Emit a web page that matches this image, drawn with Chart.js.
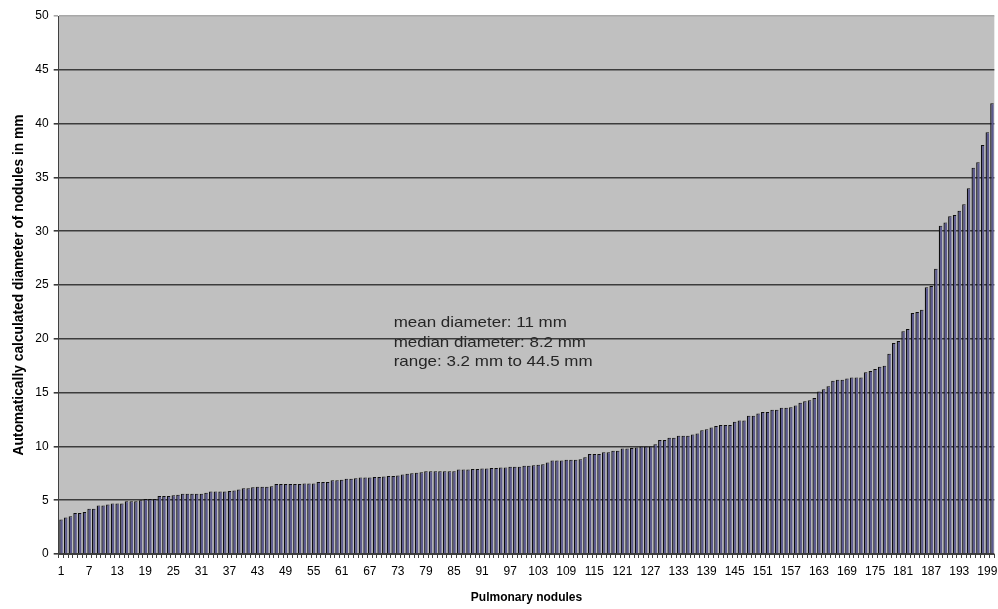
<!DOCTYPE html>
<html>
<head>
<meta charset="utf-8">
<script src="https://cdn.jsdelivr.net/npm/chart.js@4.4.1/dist/chart.umd.min.js"></script>
<style>
    body { margin: 0; background: #fff; }
    #wrap { width: 998px; height: 609px; }
</style>
</head>
<body>
<div id="wrap"><canvas id="barChart" width="998" height="609"></canvas></div>
<script>
'use strict';

// nodule diameters in mm, sorted
const diameters = [
    3.2, 3.4, 3.5, 3.8, 3.8, 3.9, 4.2, 4.2, 4.5, 4.5,
    4.6, 4.7, 4.7, 4.7, 4.9, 4.9, 4.9, 5.0, 5.1, 5.1,
    5.1, 5.4, 5.4, 5.4, 5.45, 5.5, 5.6, 5.6, 5.6, 5.6,
    5.6, 5.7, 5.8, 5.8, 5.8, 5.8, 5.85, 5.9, 6.0, 6.1,
    6.1, 6.2, 6.25, 6.25, 6.25, 6.3, 6.5, 6.5, 6.5, 6.5,
    6.5, 6.5, 6.55, 6.55, 6.55, 6.7, 6.7, 6.7, 6.85, 6.85,
    6.9, 7.0, 7.0, 7.05, 7.1, 7.1, 7.1, 7.15, 7.15, 7.2,
    7.25, 7.25, 7.3, 7.4, 7.45, 7.5, 7.55, 7.6, 7.7, 7.7,
    7.7, 7.7, 7.7, 7.7, 7.7, 7.85, 7.85, 7.85, 7.9, 7.9,
    7.95, 7.95, 8.0, 8.0, 8.05, 8.05, 8.1, 8.1, 8.1, 8.2,
    8.2, 8.25, 8.3, 8.35, 8.5, 8.7, 8.7, 8.7, 8.75, 8.75,
    8.75, 8.8, 9.0, 9.3, 9.3, 9.3, 9.45, 9.45, 9.6, 9.6,
    9.8, 9.8, 9.85, 9.9, 10.0, 10.0, 10.0, 10.2, 10.6, 10.6,
    10.8, 10.8, 11.0, 11.0, 11.0, 11.1, 11.2, 11.5, 11.6, 11.75,
    11.9, 12.0, 12.0, 12.0, 12.3, 12.4, 12.4, 12.85, 12.85, 13.05,
    13.2, 13.2, 13.4, 13.4, 13.6, 13.6, 13.65, 13.8, 14.05, 14.2,
    14.3, 14.5, 15.1, 15.3, 15.6, 16.1, 16.2, 16.2, 16.3, 16.4,
    16.4, 16.4, 16.9, 17.0, 17.2, 17.4, 17.5, 18.6, 19.6, 19.8,
    20.7, 20.9, 22.4, 22.5, 22.7, 24.8, 24.9, 26.5, 30.5, 30.8,
    31.4, 31.5, 31.9, 32.5, 34.0, 35.9, 36.4, 38.0, 39.2, 41.9
];
const nodules = diameters.map((d, i) => String(i + 1));
const yTicks = [0, 5, 10, 15, 20, 25, 30, 35, 40, 45, 50];
const noteLines = ['mean diameter: 11 mm', 'median diameter: 8.2 mm', 'range: 3.2 mm to 44.5 mm'];
const noteValues = [21.45, 19.6, 17.85];

// grey plot area + the text box
const plotBg = {
    id: 'plotBg',
    beforeDraw(chart) {
        const a = chart.chartArea, ctx = chart.ctx;
        ctx.save();
        ctx.fillStyle = '#c0c0c0';
        ctx.fillRect(a.left, a.top, a.right - a.left, a.bottom - a.top);
        ctx.restore();
    },
    afterDraw(chart) {
        const ctx = chart.ctx, x = chart.scales.x, y = chart.scales.y;
        const left = x.left + x.width * 0.358;
        ctx.save();
        ctx.font = '14.5px Arial, "Liberation Sans", sans-serif';
        ctx.fillStyle = '#262626';
        ctx.textBaseline = 'middle';
        ctx.translate(left, 0);
        ctx.scale(1.17, 1);   // the original text is a bit wide
        noteLines.forEach((t, i) => ctx.fillText(t, 0, y.getPixelForValue(noteValues[i])));
        ctx.restore();
    }
};

const ctx = document.getElementById('barChart').getContext('2d');
new Chart(ctx, {
    type: 'bar',
    data: {
        labels: nodules,
        datasets: [{
            data: diameters,
            backgroundColor: '#5c5a8e',
            borderColor: '#0d0d0d',
            borderWidth: {left: 1.3, top: 1, right: 0, bottom: 0},
            borderSkipped: false,
            barPercentage: 0.76,
            categoryPercentage: 1
        }]
    },
    options: {
        responsive: false,
        animation: false,
        layout: { padding: {top: 16, right: 1, left: 0, bottom: 0} },
        plugins: { legend: { display: false }, tooltip: { enabled: false } },
        scales: {
            x: {
                afterFit(scale) { scale.height = 55; },
                grid: { drawOnChartArea: false, drawTicks: true, tickLength: 4, color: '#404040' },
                border: { color: '#404040', width: 1 },
                ticks: {
                    autoSkip: false, maxRotation: 0, padding: 6,
                    color: '#000',
                    font: { family: 'Arial, "Liberation Sans", sans-serif', size: 12 },
                    callback: function(v, i) { return i % 6 === 0 ? this.getLabelForValue(v) : ''; }
                },
                title: {
                    display: true, text: 'Pulmonary nodules', color: '#000',
                    font: { family: 'Arial, "Liberation Sans", sans-serif', size: 12, weight: 'bold' },
                    padding: { top: 0, bottom: 4 }
                }
            },
            y: {
                min: 0, max: 50,
                afterFit(scale) { scale.width = 58.7; },
                afterBuildTicks(scale) { scale.ticks = yTicks.map(v => ({value: v})); },
                grid: {
                    color: c => c.tick && c.tick.value === 50 ? '#a8a8a8' : '#3c3c3c',
                    lineWidth: 1.6, tickLength: 5
                },
                border: { color: '#404040', width: 1 },
                ticks: {
                    padding: 5, color: '#000',
                    font: { family: 'Arial, "Liberation Sans", sans-serif', size: 12 }
                },
                title: {
                    display: true, text: 'Automatically calculated diameter of nodules in mm', color: '#000',
                    font: { family: 'Arial, "Liberation Sans", sans-serif', size: 13.8, weight: 'bold' },
                    padding: { top: 11, bottom: 0 }
                }
            }
        }
    },
    plugins: [plotBg]
});
</script>
</body>
</html>
